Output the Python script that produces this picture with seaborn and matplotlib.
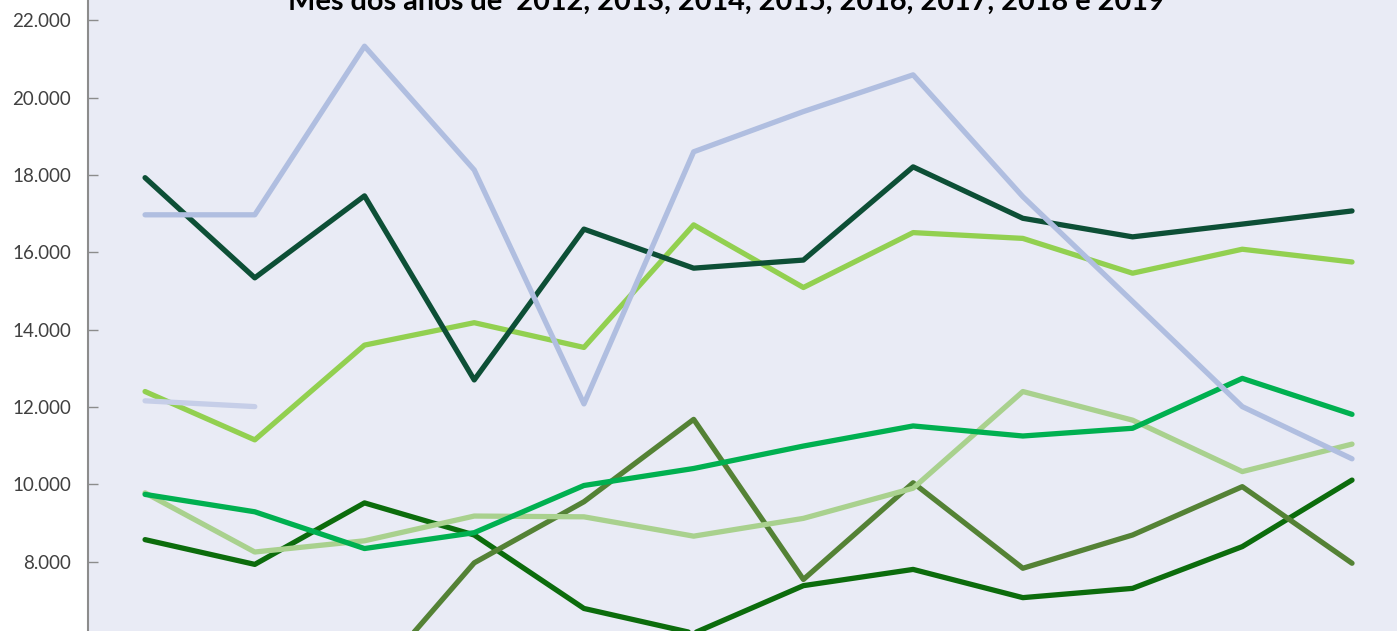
import seaborn as sns
import matplotlib.pyplot as plt
import matplotlib.ticker as mticker
import pandas as pd
import numpy as np

months = list(range(1, 13))

# valores mensais por ano
anos = ['2012', '2013', '2014', '2015', '2016', '2017', '2018', '2019']
v2012 = [8570, 7930, 9520, 8690, 6790, 6150, 7380, 7800, 7070, 7310, 8390, 10110]
v2013 = [5100, 4800, 4700, 7970, 9550, 11680, 7540, 10040, 7830, 8690, 9940, 7960]
v2014 = [9780, 8250, 8540, 9180, 9160, 8660, 9120, 9900, 12400, 11660, 10330, 11040]
v2015 = [9740, 9290, 8340, 8750, 9970, 10410, 10990, 11510, 11250, 11450, 12740, 11810]
v2016 = [12400, 11150, 13600, 14180, 13540, 16710, 15090, 16510, 16360, 15460, 16080, 15750]
v2017 = [17930, 15340, 17460, 12700, 16600, 15590, 15800, 18210, 16880, 16400, 16730, 17070]
v2018 = [16970, 16970, 21330, 18130, 12080, 18600, 19640, 20590, 17440, 14730, 12010, 10660]
v2019 = [12160, 12010]

cores = {'2012': '#0C6C0C', '2013': '#548235', '2014': '#A9D18E', '2015': '#00B050',
         '2016': '#92D050', '2017': '#0D4F36', '2018': '#B0BEE0', '2019': '#C6CEE8'}

series = [v2012, v2013, v2014, v2015, v2016, v2017, v2018, v2019]
rows = []
for ano, vals in zip(anos, series):
    for m, v in zip(months, vals):
        rows.append({'Mes': m, 'Ano': ano, 'Valor': v})
df = pd.DataFrame(rows)

W, H = 1397, 631
fig = plt.figure(figsize=(W / 100, H / 100), dpi=100)
fig.patch.set_facecolor('white')

# eixo maior que a figura (grafico recortado em cima e embaixo)
ymin, ymax = 4000, 22600
px_per_unit = 38.67 / 1000
top_px = 20.3 - (ymax - 22000) * px_per_unit
bot_px = 20.3 + (22000 - ymin) * px_per_unit
left = 88 / W
ax = fig.add_axes([left, (H - bot_px) / H, 1 - left, (bot_px - top_px) / H])
ax.set_facecolor('#E9EBF5')

sns.lineplot(data=df, x='Mes', y='Valor', hue='Ano', hue_order=anos, palette=cores,
             linewidth=3.8, legend=False, ax=ax, solid_capstyle='round')

ax.set_xlim(1 - 0.52, 12.41)
ax.set_ylim(ymin, ymax)
ax.set_yticks(np.arange(6000, 22001, 2000))
ax.yaxis.set_major_formatter(mticker.FuncFormatter(lambda v, p: f'{v:,.0f}'.replace(',', '.')))
ax.set_xticks([])
ax.set_xlabel('')
ax.set_ylabel('')
for s in ['top', 'right', 'bottom']:
    ax.spines[s].set_visible(False)
ax.spines['left'].set_color('#8C8C8C')
ax.spines['left'].set_linewidth(1.5)
ax.tick_params(axis='y', direction='in', length=7, width=1, color='#8C8C8C',
               labelsize=13.5, labelcolor='#404040', pad=12)
for lb in ax.get_yticklabels():
    lb.set_family('Lato')

fig.text(726 / W, (H - 10) / H, 'Mês dos anos de  2012, 2013, 2014, 2015, 2016, 2017, 2018 e 2019',
         ha='center', va='baseline', fontsize=20.8, fontweight='bold', family='Lato', color='black')

plt.savefig('out.png', dpi=100)
